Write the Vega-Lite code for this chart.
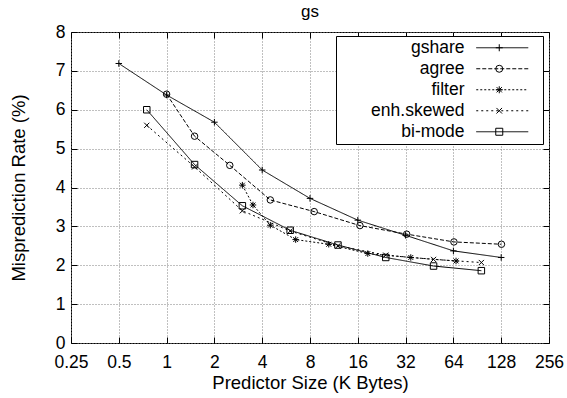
{
  "$schema": "https://vega.github.io/schema/vega-lite/v6.json",
  "width": 478,
  "height": 311,
  "autosize": {"type": "none"},
  "padding": {"left": 71, "top": 32, "right": 18, "bottom": 55},
  "background": "white",
  "title": {"text": "gs", "fontSize": 17, "font": "Liberation Sans", "fontWeight": "normal", "offset": 12, "dy": 10, "anchor": "middle", "frame": "group", "color": "black"},
  "config": {
    "view": {"stroke": "black", "strokeWidth": 1},
    "font": "Liberation Sans"
  },
  "data": {"values": [
    {"series": "gshare", "size": 0.5, "rate": 7.19},
    {"series": "gshare", "size": 1, "rate": 6.38},
    {"series": "gshare", "size": 2, "rate": 5.68},
    {"series": "gshare", "size": 4, "rate": 4.45},
    {"series": "gshare", "size": 8, "rate": 3.72},
    {"series": "gshare", "size": 16, "rate": 3.16},
    {"series": "gshare", "size": 32, "rate": 2.77},
    {"series": "gshare", "size": 64, "rate": 2.37},
    {"series": "gshare", "size": 128, "rate": 2.2},
    {"series": "agree", "size": 1, "rate": 6.4},
    {"series": "agree", "size": 1.5, "rate": 5.32},
    {"series": "agree", "size": 2.5, "rate": 4.57},
    {"series": "agree", "size": 4.5, "rate": 3.68},
    {"series": "agree", "size": 8.5, "rate": 3.38},
    {"series": "agree", "size": 16.5, "rate": 3.02},
    {"series": "agree", "size": 32.5, "rate": 2.8},
    {"series": "agree", "size": 64.5, "rate": 2.6},
    {"series": "agree", "size": 128.5, "rate": 2.54},
    {"series": "filter", "size": 3, "rate": 4.06},
    {"series": "filter", "size": 3.5, "rate": 3.55},
    {"series": "filter", "size": 4.5, "rate": 3.03},
    {"series": "filter", "size": 6.5, "rate": 2.66},
    {"series": "filter", "size": 10.5, "rate": 2.54},
    {"series": "filter", "size": 18.5, "rate": 2.3},
    {"series": "filter", "size": 34.5, "rate": 2.2},
    {"series": "filter", "size": 66.5, "rate": 2.11},
    {"series": "enh.skewed", "size": 0.75, "rate": 5.6},
    {"series": "enh.skewed", "size": 1.5, "rate": 4.53},
    {"series": "enh.skewed", "size": 3, "rate": 3.4},
    {"series": "enh.skewed", "size": 6, "rate": 2.88},
    {"series": "enh.skewed", "size": 12, "rate": 2.5},
    {"series": "enh.skewed", "size": 24, "rate": 2.26},
    {"series": "enh.skewed", "size": 48, "rate": 2.15},
    {"series": "enh.skewed", "size": 96, "rate": 2.07},
    {"series": "bi-mode", "size": 0.75, "rate": 6.0},
    {"series": "bi-mode", "size": 1.5, "rate": 4.59},
    {"series": "bi-mode", "size": 3, "rate": 3.53},
    {"series": "bi-mode", "size": 6, "rate": 2.9},
    {"series": "bi-mode", "size": 12, "rate": 2.52},
    {"series": "bi-mode", "size": 24, "rate": 2.2},
    {"series": "bi-mode", "size": 48, "rate": 1.98},
    {"series": "bi-mode", "size": 96, "rate": 1.86}
  ]},
  "layer": [
    {
      "mark": {"type": "line", "stroke": "black", "strokeWidth": 1},
      "encoding": {
        "x": {"field": "size", "type": "quantitative",
          "scale": {"type": "log", "base": 2, "domain": [0.25, 256], "nice": false},
          "axis": {"orient": "bottom", "values": [0.25, 0.5, 1, 2, 4, 8, 16, 32, 64, 128, 256],
            "labelExpr": "format(datum.value, '~g')",
            "title": "Predictor Size (K Bytes)", "titleFontSize": 18.5, "titleFontWeight": "normal", "titleColor": "black", "titleFont": "Liberation Sans", "titlePadding": 2,
            "labelFontSize": 17.5, "labelColor": "black", "labelFont": "Liberation Sans", "labelPadding": 16.5, "labelFlush": false, "labelOverlap": false, "labelBound": false,
            "grid": true, "gridDash": [1, 2], "gridColor": "#808080", "gridWidth": 1,
            "domain": false, "ticks": true, "tickSize": -6, "tickColor": "black"}},
        "y": {"field": "rate", "type": "quantitative",
          "scale": {"domain": [0, 8], "nice": false},
          "axis": {"orient": "left", "values": [0, 1, 2, 3, 4, 5, 6, 7, 8],
            "title": "Misprediction Rate (%)", "titleFontSize": 18.5, "titleFontWeight": "normal", "titleColor": "black", "titleFont": "Liberation Sans", "titlePadding": 27,
            "labelFontSize": 17.5, "labelColor": "black", "labelFont": "Liberation Sans", "labelPadding": 12, "labelFlush": false, "labelOverlap": false, "labelBound": false,
            "grid": true, "gridDash": [1, 2], "gridColor": "#808080", "gridWidth": 1,
            "domain": false, "ticks": true, "tickSize": -6, "tickColor": "black"}},
        "strokeDash": {"field": "series", "type": "nominal",
          "scale": {"domain": ["gshare", "agree", "filter", "enh.skewed", "bi-mode"], "range": [[1, 0], [4, 2], [2, 2], [2, 3], [1, 0]]},
          "legend": {"orient": "none", "legendX": 265, "legendY": 4, "title": null, "padding": 3, "rowPadding": 2,
            "symbolType": "M-4,0H4", "symbolSize": 169, "symbolStrokeColor": "black", "symbolStrokeWidth": 1, "symbolOffset": 154.5,
            "labelAlign": "right", "labelOffset": -46.5, "labelFontSize": 17.5, "labelFont": "Liberation Sans", "labelColor": "black", "labelLimit": 0, "zindex": 2}},
        "detail": {"field": "series", "type": "nominal"}
      }
    },
    {
      "mark": {"type": "point", "filled": false, "stroke": "black", "strokeWidth": 1, "size": 42, "opacity": 1},
      "encoding": {
        "x": {"field": "size", "type": "quantitative",
          "scale": {"type": "log", "base": 2, "domain": [0.25, 256], "nice": false},
          "axis": {"orient": "top", "values": [0.25, 0.5, 1, 2, 4, 8, 16, 32, 64, 128, 256], "labels": false, "title": null, "grid": false, "domain": false, "ticks": true, "tickSize": -6, "tickColor": "black"}},
        "y": {"field": "rate", "type": "quantitative",
          "scale": {"domain": [0, 8], "nice": false},
          "axis": {"orient": "right", "values": [0, 1, 2, 3, 4, 5, 6, 7, 8], "labels": false, "title": null, "grid": false, "domain": false, "ticks": true, "tickSize": -6, "tickColor": "black"}},
        "shape": {"field": "series", "type": "nominal", "sort": null,
          "scale": {"range": ["M-1,0H1M0,-1V1", "circle", "M-1,0H1M0,-1V1M-0.75,-0.75L0.75,0.75M-0.75,0.75L0.75,-0.75", "M-0.8,-0.8L0.8,0.8M-0.8,0.8L0.8,-0.8", "square"]},
          "legend": {"orient": "none", "legendX": 265, "legendY": 4, "title": null, "padding": 3, "rowPadding": 2,
            "symbolSize": 49, "symbolStrokeColor": "black", "symbolFillColor": "transparent", "symbolStrokeWidth": 1, "symbolOffset": 151.5,
            "labelExpr": "' '", "labelAlign": "right", "labelOffset": 31.5, "labelOpacity": 0, "labelFontSize": 17.5, "labelFont": "Liberation Sans", "labelLimit": 0,
            "fillColor": "white", "strokeColor": "black", "zindex": 1}}
      }
    }
  ],
  "resolve": {"axis": {"x": "independent", "y": "independent"}}
}
